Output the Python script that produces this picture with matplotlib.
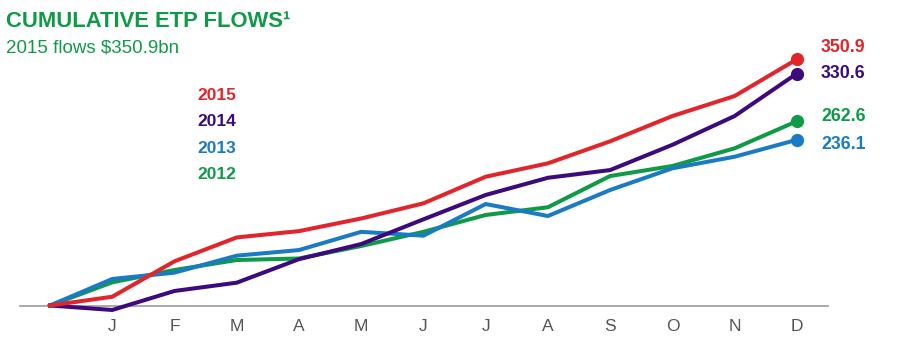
import matplotlib.pyplot as plt

plt.rcParams['font.family'] = ['Liberation Sans', 'DejaVu Sans']

# months: index 0 = start of year, then J..D
months = ["", "J", "F", "M", "A", "M", "J", "J", "A", "S", "O", "N", "D"]

flows2015 = [0, 12.5, 63, 97, 106, 124, 145.6, 183.5, 202.6, 234, 270, 298.5, 350.9]
flows2014 = [0, -6.4, 20.7, 32.5, 66, 87.6, 122.8, 157.5, 182, 193, 229, 270, 330.6]
flows2013 = [0, 37.8, 46.8, 71, 79, 105, 99.5, 144.6, 127.5, 164.6, 195.5, 212, 236.1]
flows2012 = [0, 33, 50.6, 64.8, 67, 84.8, 105, 129, 140, 184.5, 198.8, 224, 262.6]

years = ["2015", "2014", "2013", "2012"]
colors = {"2015": "#e2252b", "2014": "#3d0a7d", "2013": "#1a7bc4", "2012": "#0f9a48"}
series = {"2015": flows2015, "2014": flows2014, "2013": flows2013, "2012": flows2012}
# label offsets (pixels) for the end values
end_offsets = {"2015": 12, "2014": 0, "2013": -5, "2012": 5}

W, H = 898, 354
fig = plt.figure(figsize=(W / 100, H / 100), dpi=100)

# axes placed so the baseline and month spacing line up with the picture
left, right = 20, 828
base, top = 305.5, 40
ax = fig.add_axes([left / W, (H - base) / H, (right - left) / W, (base - top) / H])
ax.set_xlim(-0.482, 12.5)
ax.set_ylim(0, (base - top) * 1.425)

# draw older years first so 2015 ends up on top
for y in ["2012", "2013", "2014", "2015"]:
    vals = series[y]
    ax.plot(range(len(vals)), vals, color=colors[y], lw=2.9, clip_on=False,
            solid_joinstyle='miter', zorder=3)
    ax.plot(len(vals) - 1, vals[-1], 'o', color=colors[y], ms=8.5, clip_on=False, zorder=4)
    ax.annotate(f"{vals[-1]:.1f}", (len(vals) - 1, vals[-1]),
                xytext=(24, end_offsets[y]), textcoords='offset pixels',
                ha='left', va='center', fontsize=12.8, fontweight='bold', color=colors[y])

for s in ["top", "right", "left"]:
    ax.spines[s].set_visible(False)
ax.spines["bottom"].set_color("#999999")
ax.spines["bottom"].set_linewidth(1.2)
ax.set_yticks([])
ax.set_xticks(range(1, len(months)))
ax.set_xticklabels(months[1:], fontsize=12.5, color="#555555")
ax.tick_params(axis='x', length=0, pad=10)

# legend-like year labels
for i, y in enumerate(years):
    fig.text(197 / W, 1 - (100 + 26.3 * i) / H, y, fontsize=12.5, fontweight='bold',
             color=colors[y], ha='left', va='baseline')

fig.text(6 / W, 1 - 27 / H, "CUMULATIVE ETP FLOWS\u00b9", fontsize=15.8, fontweight='bold',
         color="#0f9a48", ha='left', va='baseline')
fig.text(6 / W, 1 - 53 / H, "2015 flows $350.9bn", fontsize=13.5,
         color="#0f9a48", ha='left', va='baseline')

fig.savefig("out.png", dpi=100)
